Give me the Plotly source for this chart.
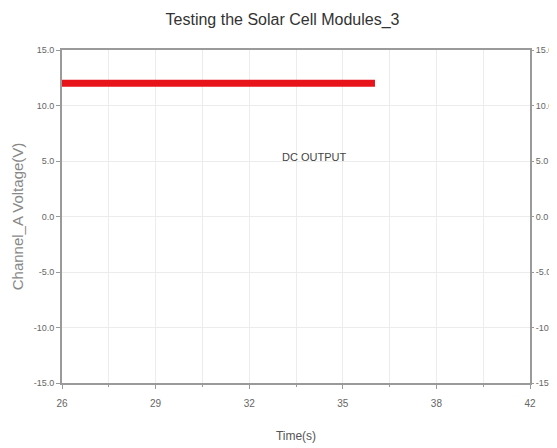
import plotly.graph_objects as go

# Data
time_s = [26.0, 27.0, 28.0, 29.0, 30.0, 31.0, 32.0, 33.0, 34.0, 35.0, 36.0, 36.7]
voltage_v = [12.0, 12.0, 12.0, 12.0, 12.0, 12.0, 12.0, 12.0, 12.0, 12.0, 12.0, 12.0]

x_tickvals = [26, 29.2, 32.4, 35.6, 38.8, 42]
x_ticktext = ["26", "29", "32", "35", "38", "42"]
y_tickvals = [15, 10, 5, 0, -5, -10, -15]
y_ticktext = ["15.0", "10.0", "5.0", "0.0", "-5.0", "-10.0", "-15.0"]

FONT = "Liberation Sans Narrow, Liberation Sans, Arial, sans-serif"
AX = "#9a9a9a"
GRID = "#ececec"

fig = go.Figure()
fig.add_trace(go.Scatter(x=time_s, y=voltage_v, mode="lines",
                         line=dict(color="#e8141c", width=7), showlegend=False))
# invisible trace for right axis
fig.add_trace(go.Scatter(x=[26], y=[0], yaxis="y2", mode="markers",
                         marker=dict(opacity=0), showlegend=False, hoverinfo="skip"))

# page body has an 8px margin, so the figure is sized to fit the window
fig.update_layout(
    width=549, height=440,
    margin=dict(l=54, r=27, t=42, b=65),
    paper_bgcolor="white", plot_bgcolor="white",
    font=dict(family=FONT, color="#555555", size=11),
    title=dict(text="Testing the Solar Cell Modules_3", x=0.5, xanchor="center",
               y=0.975, yanchor="middle", font=dict(size=16, color="#333333", family=FONT)),
    xaxis=dict(range=[26, 42], tickvals=x_tickvals, ticktext=x_ticktext,
               showline=True, linecolor=AX, linewidth=2, mirror=True,
               ticks="outside", ticklen=4, tickcolor=AX, automargin=False,
               ticklabelstandoff=6,
               showgrid=True, gridcolor=GRID, zeroline=False,
               minor=dict(tickvals=[27.6, 30.8, 34.0, 37.2, 40.4], showgrid=True,
                          gridcolor=GRID, ticks="outside", ticklen=2, tickcolor=AX),
               title=dict(text="Time(s)", font=dict(size=12, color="#555555"), standoff=24),
               tickfont=dict(size=10, color="#666666")),
    yaxis=dict(range=[-15, 15], tickvals=y_tickvals, ticktext=y_ticktext,
               showline=True, linecolor=AX, linewidth=2, mirror=True,
               ticks="outside", ticklen=4, tickcolor=AX, automargin=False,
               showgrid=True, gridcolor=GRID, zeroline=False,
               title=dict(text="Channel_A Voltage(V)", font=dict(size=15, color="#888888"), standoff=6),
               tickfont=dict(size=9, color="#666666")),
    yaxis2=dict(range=[-15, 15], tickvals=y_tickvals, ticktext=y_ticktext,
                overlaying="y", side="right", showgrid=False, zeroline=False,
                ticks="outside", ticklen=3, tickcolor=AX, automargin=False,
                tickfont=dict(size=9, color="#666666")),
    annotations=[dict(x=34.6, y=5.4, text="DC OUTPUT", showarrow=False,
                      font=dict(size=11, color="#444444", family=FONT))],
)

fig.write_html("out.html")
